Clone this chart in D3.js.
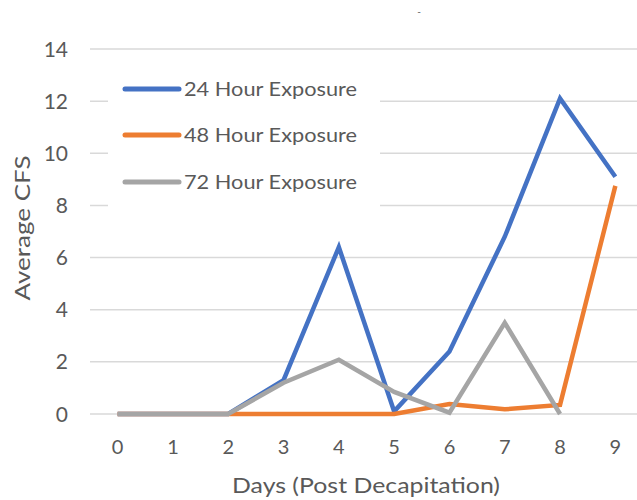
<!DOCTYPE html>
<html><head><meta charset="utf-8">
<script src="https://cdn.jsdelivr.net/npm/d3@7"></script>
<style>body{margin:0;background:#fff}svg{display:block}text{font-family:Lato,"Open Sans",sans-serif;fill:#595959}</style>
</head><body>
<svg id="c" width="637" height="500"></svg>
<script>
const days = [0,1,2,3,4,5,6,7,8,9];
const yTicks = [0,2,4,6,8,10,12,14];
const seriesNames = ["24 Hour Exposure","48 Hour Exposure","72 Hour Exposure"];
const seriesColors = ["#4472C4","#ED7D31","#A5A5A5"];
const h24 = [0,0,0,1.3,6.4,0.1,2.4,6.8,12.1,9.1];
const h48 = [0,0,0,0,0,0,0.38,0.18,0.35,8.75];
const h72 = [0,0,0,1.2,2.08,0.85,0.05,3.5,0,null];
const xTitle = "Days (Post Decapitation)";
const yTitle = "Average CFS";

const svg = d3.select("#c");
const x = d3.scalePoint().domain(days).range([90, 643]).padding(0.5);
const y = d3.scaleLinear().domain([0,14]).range([414, 49]);

// gridlines
svg.append("g").selectAll("line").data(yTicks).join("line")
  .attr("x1", 90).attr("x2", 637)
  .attr("y1", d=>y(d)).attr("y2", d=>y(d))
  .attr("stroke", "#D9D9D9").attr("stroke-width", 1.5);

// y tick labels
svg.append("g").selectAll("text").data(yTicks).join("text")
  .attr("x", 68).attr("y", d=>y(d)).attr("dy","0.36em")
  .attr("text-anchor","end").attr("font-size",21).text(d=>d);

// x tick labels
svg.append("g").selectAll("text").data(days).join("text")
  .attr("x", d=>x(d)).attr("y", 454)
  .attr("text-anchor","middle").attr("font-size",20).text(d=>d);

// axis titles
svg.append("text").attr("x", 366).attr("y", 493).attr("text-anchor","middle")
  .attr("font-size",22).attr("textLength",268).attr("lengthAdjust","spacingAndGlyphs").text(xTitle);
svg.append("text").attr("transform","translate(30,228) rotate(-90)")
  .attr("text-anchor","middle").attr("font-size",22).attr("textLength",145).attr("lengthAdjust","spacingAndGlyphs").text(yTitle);

// stray mark at top
svg.append("text").attr("x",419).attr("y",15).attr("text-anchor","middle").attr("font-size",10).text("-");

// legend background
svg.append("rect").attr("x",108).attr("y",66).attr("width",272).attr("height",144).attr("fill","#fff");

// lines
const line = d3.line().defined(d=>d[1]!==null).x(d=>x(d[0])).y(d=>y(d[1]));
[h24,h48,h72].forEach((vals,i)=>{
  svg.append("path").datum(days.map((d,j)=>[d, vals[j]]))
    .attr("d", line).attr("fill","none")
    .attr("stroke", seriesColors[i]).attr("stroke-width", 4.5)
    .attr("stroke-linejoin","miter").attr("stroke-linecap","butt");
});

// legend
const lg = svg.append("g");
const ly = [89, 135, 182];
seriesNames.forEach((n,i)=>{
  lg.append("line").attr("x1",125).attr("x2",179).attr("y1",ly[i]).attr("y2",ly[i])
    .attr("stroke",seriesColors[i]).attr("stroke-width",5).attr("stroke-linecap","round");
  lg.append("text").attr("x",184).attr("y",ly[i]).attr("dy","0.35em")
    .attr("font-size",19).attr("textLength",173).attr("lengthAdjust","spacingAndGlyphs").text(n);
});
</script>
</body></html>
